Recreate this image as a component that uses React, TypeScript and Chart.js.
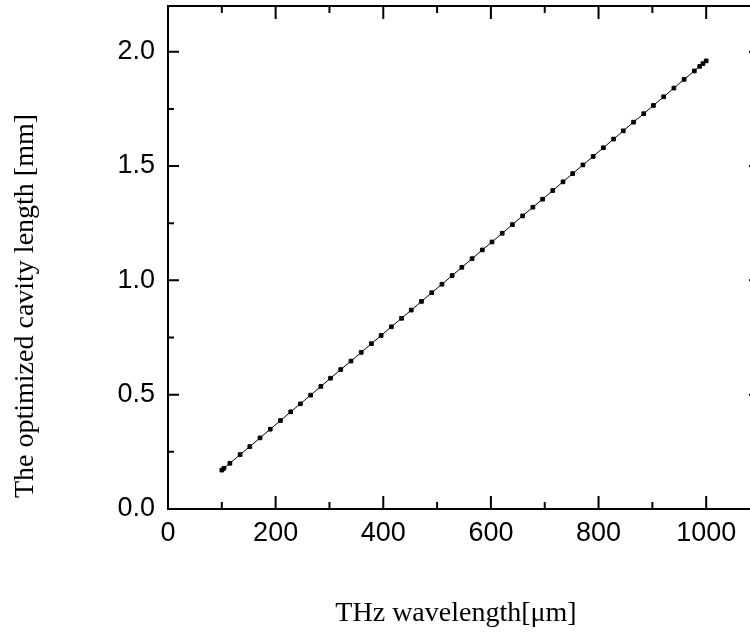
import { useEffect, useRef } from "react";
import { Chart, registerables } from "chart.js";

Chart.register(...registerables);

const wavelength = [
  100, 104, 115, 134, 152, 171, 190, 209, 228, 246, 265, 284, 302, 321, 340, 359,
  378, 396, 415, 434, 452, 471, 490, 509, 528, 546, 565, 584, 602, 621, 640, 659,
  678, 696, 715, 734, 752, 771, 790, 809, 828, 846, 865, 884, 902, 921, 940, 959,
  978, 988, 994, 1000,
];
const cavityLength = [
  0.17, 0.178, 0.2, 0.238, 0.273, 0.311, 0.349, 0.387, 0.425, 0.46, 0.498, 0.536,
  0.572, 0.61, 0.647, 0.685, 0.723, 0.759, 0.797, 0.834, 0.87, 0.908, 0.946, 0.983,
  1.021, 1.057, 1.095, 1.133, 1.168, 1.206, 1.244, 1.282, 1.32, 1.355, 1.393, 1.431,
  1.467, 1.505, 1.542, 1.58, 1.618, 1.654, 1.692, 1.729, 1.765, 1.803, 1.841, 1.879,
  1.916, 1.936, 1.948, 1.96,
];
const xTicks = [0, 200, 400, 600, 800, 1000];
const xMinorTicks = [100, 300, 500, 700, 900];
const yTicks = [0, 0.5, 1.0, 1.5, 2.0];
const yMinorTicks = [0.25, 0.75, 1.25, 1.75];
const xTitle = "THz wavelength[\u03bcm]";
const yTitle = "The optimized cavity length [mm]";

const CANVAS_W = 772;
const CANVAS_H = 632;

const framePlugin = {
  id: "frameTicks",
  afterDraw(chart: any) {
    const ctx = chart.ctx;
    const { left, right, top, bottom } = chart.chartArea;
    const xs = chart.scales.x;
    const ys = chart.scales.y;
    ctx.save();
    ctx.strokeStyle = "#000";
    ctx.lineWidth = 2;
    ctx.lineCap = "butt";
    ctx.strokeRect(left, top, right - left, bottom - top);
    ctx.beginPath();
    const xt = (vals: number[], len: number) => {
      vals.forEach((v) => {
        const p = xs.getPixelForValue(v);
        ctx.moveTo(p, bottom);
        ctx.lineTo(p, bottom - len);
        ctx.moveTo(p, top);
        ctx.lineTo(p, top + len);
      });
    };
    const yt = (vals: number[], len: number) => {
      vals.forEach((v) => {
        const p = ys.getPixelForValue(v);
        ctx.moveTo(left, p);
        ctx.lineTo(left + len, p);
        ctx.moveTo(right, p);
        ctx.lineTo(right - len, p);
      });
    };
    xt(xTicks, 13);
    xt(xMinorTicks, 7);
    yt(yTicks, 11);
    yt(yMinorTicks, 6);
    ctx.stroke();

    ctx.fillStyle = "#000";
    ctx.font = "28px 'Liberation Serif', 'Times New Roman', serif";
    ctx.textAlign = "center";
    ctx.textBaseline = "alphabetic";
    ctx.fillText(xTitle, 456, 621);

    ctx.translate(33, 306);
    ctx.rotate(-Math.PI / 2);
    ctx.fillText(yTitle, 0, 0);
    ctx.restore();
  },
};

export default function App() {
  const ref = useRef<HTMLCanvasElement | null>(null);

  useEffect(() => {
    if (!ref.current) return;
    const tickFont = { family: "'Liberation Sans', Arial, sans-serif", size: 27 };
    const chart = new Chart(ref.current, {
      type: "scatter",
      data: {
        datasets: [
          {
            data: wavelength.map((x, i) => ({ x, y: cavityLength[i] })),
            showLine: true,
            borderColor: "#000",
            borderWidth: 1,
            pointStyle: "rect",
            pointRadius: 2.6,
            pointBorderWidth: 1,
            pointBackgroundColor: "#000",
            pointBorderColor: "#000",
            tension: 0,
          },
        ],
      },
      options: {
        responsive: false,
        animation: false,
        devicePixelRatio: 1,
        layout: { padding: { left: 0, top: 6, right: 12, bottom: 0 } },
        plugins: { legend: { display: false }, tooltip: { enabled: false } },
        scales: {
          x: {
            type: "linear",
            min: 0,
            max: 1100,
            afterBuildTicks: (s: any) => {
              s.ticks = xTicks.map((v) => ({ value: v }));
            },
            afterFit: (s: any) => {
              s.height = 123;
              s.paddingLeft = 0;
              s.paddingRight = 0;
            },
            grid: { display: false, drawTicks: false },
            border: { display: false },
            ticks: {
              padding: 8,
              color: "#000",
              font: tickFont,
              maxRotation: 0,
              autoSkip: false,
              callback: (v: any) => String(v),
            },
          },
          y: {
            type: "linear",
            min: 0,
            max: 2.2,
            afterBuildTicks: (s: any) => {
              s.ticks = yTicks.map((v) => ({ value: v }));
            },
            afterFit: (s: any) => {
              s.width = 168;
              s.paddingTop = 0;
              s.paddingBottom = 0;
            },
            grid: { display: false, drawTicks: false },
            border: { display: false },
            ticks: {
              padding: 13,
              color: "#000",
              font: tickFont,
              autoSkip: false,
              callback: (v: any) => Number(v).toFixed(1),
            },
          },
        },
      },
      plugins: [framePlugin],
    } as any);
    return () => chart.destroy();
  }, []);

  return (
    <div
      style={{
        position: "fixed",
        left: 0,
        top: 0,
        width: 750,
        height: 632,
        overflow: "hidden",
        background: "#fff",
      }}
    >
      <canvas
        ref={ref}
        width={CANVAS_W}
        height={CANVAS_H}
        style={{ position: "absolute", left: 0, top: 0, width: CANVAS_W, height: CANVAS_H }}
      />
    </div>
  );
}
